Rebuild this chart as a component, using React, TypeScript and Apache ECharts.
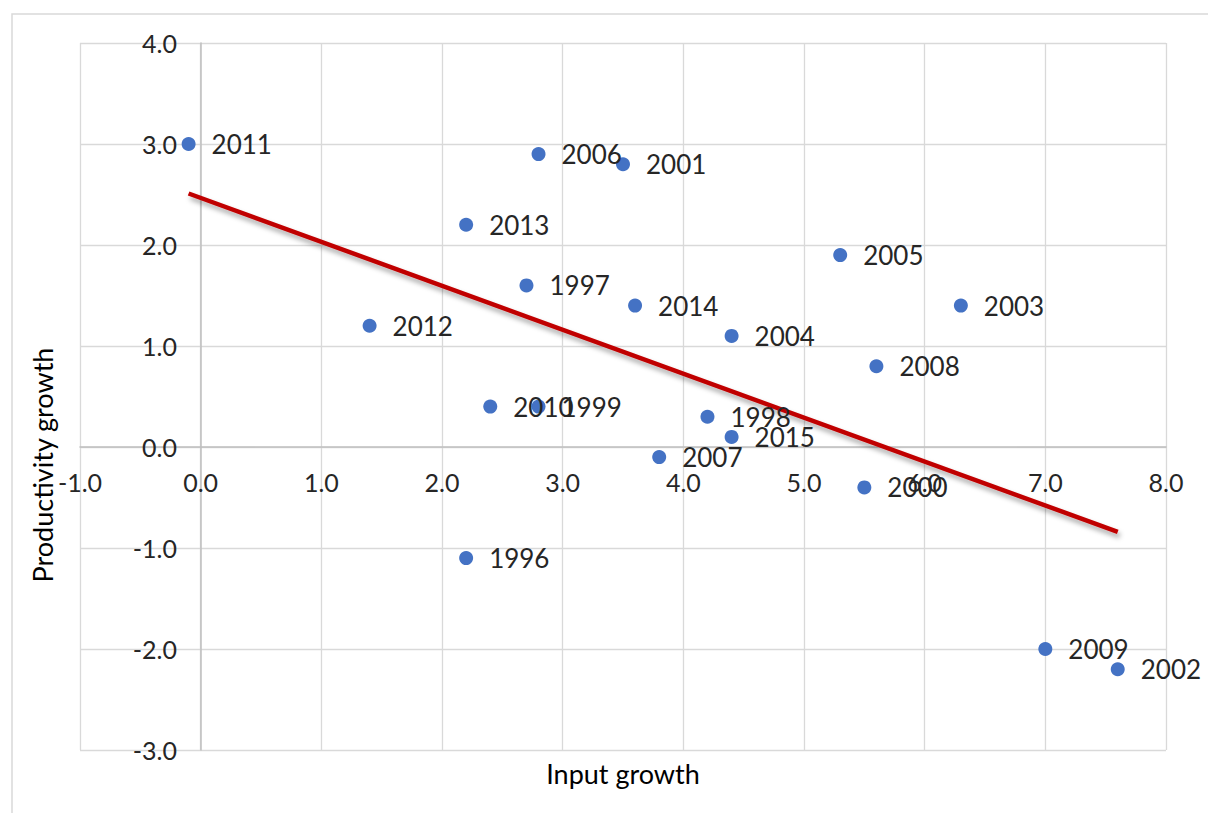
import React, { useEffect, useRef } from "react";
import * as echarts from "echarts";

const years = ["2011","2006","2001","2013","2005","1997","2014","2003","2012","2004","2008","2010","1999","1998","2015","2007","2000","1996","2009","2002"];
const inputGrowth = [-0.1, 2.8, 3.5, 2.2, 5.3, 2.7, 3.6, 6.3, 1.4, 4.4, 5.6, 2.4, 2.8, 4.2, 4.4, 3.8, 5.5, 2.2, 7.0, 7.6];
const productivityGrowth = [3.0, 2.9, 2.8, 2.2, 1.9, 1.6, 1.4, 1.4, 1.2, 1.1, 0.8, 0.4, 0.4, 0.3, 0.1, -0.1, -0.4, -1.1, -2.0, -2.2];
const trendX = [-0.1, 7.6];
const trendY = [2.51, -0.84];

const FONT = "Lato";
const TEXT = "#262626";

export default function App() {
  const ref = useRef<HTMLDivElement>(null);
  useEffect(() => {
    if (!ref.current) return;
    const chart = echarts.init(ref.current, undefined, { renderer: "svg" });
    const pts = years.map((y, i) => ({ value: [inputGrowth[i], productivityGrowth[i]], name: y }));
    chart.setOption({
      animation: false,
      backgroundColor: "#ffffff",
      textStyle: { fontFamily: FONT },
      grid: { left: 80, right: 42, top: 43, bottom: 63, containLabel: false },
      xAxis: {
        type: "value",
        min: -1,
        max: 8,
        interval: 1,
        offset: -303,
        axisLine: { show: true, onZero: false, lineStyle: { color: "#bfbfbf", width: 1.5 } },
        axisTick: { show: false },
        axisLabel: { color: TEXT, fontSize: 25, fontFamily: FONT, margin: 22, formatter: (v: number) => v.toFixed(1) },
        splitLine: { show: true, lineStyle: { color: "#d9d9d9", width: 1.3 } },
      },
      yAxis: {
        type: "value",
        min: -3,
        max: 4,
        interval: 1,
        offset: -121,
        axisLine: { show: true, onZero: false, lineStyle: { color: "#bfbfbf", width: 1.5 } },
        axisTick: { show: false },
        axisLabel: { color: TEXT, fontSize: 25, fontFamily: FONT, margin: 24, formatter: (v: number) => v.toFixed(1) },
        splitLine: { show: true, lineStyle: { color: "#d9d9d9", width: 1.3 } },
      },
      series: [
        {
          type: "line",
          data: trendX.map((x, i) => [x, trendY[i]]),
          showSymbol: false,
          symbol: "none",
          lineStyle: {
            color: "#c00000",
            width: 4.5,
            shadowColor: "rgba(0,0,0,0.35)",
            shadowBlur: 5,
            shadowOffsetX: 2,
            shadowOffsetY: 4,
          },
          z: 2,
        },
        {
          type: "scatter",
          data: pts,
          symbolSize: 14,
          itemStyle: { color: "#4472c4", opacity: 1 },
          label: {
            show: true,
            position: "right",
            distance: 16,
            color: TEXT,
            fontSize: 26,
            fontFamily: FONT,
            formatter: (p: any) => p.name,
          },
          z: 3,
        },
      ],
      graphic: [
        {
          type: "rect",
          shape: { x: 12, y: 14, width: 1250, height: 850 },
          style: { fill: "none", stroke: "#d9d9d9", lineWidth: 1.5 },
          silent: true,
        },
        {
          type: "text",
          x: 42,
          y: 465,
          rotation: Math.PI / 2,
          style: {
            text: "Productivity growth",
            fill: "#000000",
            font: `27px ${FONT}`,
            textAlign: "center",
            textVerticalAlign: "middle",
          },
        },
        {
          type: "text",
          x: 623,
          y: 773,
          style: {
            text: "Input growth",
            fill: "#000000",
            font: `27px ${FONT}`,
            textAlign: "center",
            textVerticalAlign: "middle",
          },
        },
      ],
    });
    return () => chart.dispose();
  }, []);
  return (
    <div
      ref={ref}
      style={{ position: "absolute", left: 0, top: 0, width: 1208, height: 813 }}
    />
  );
}
